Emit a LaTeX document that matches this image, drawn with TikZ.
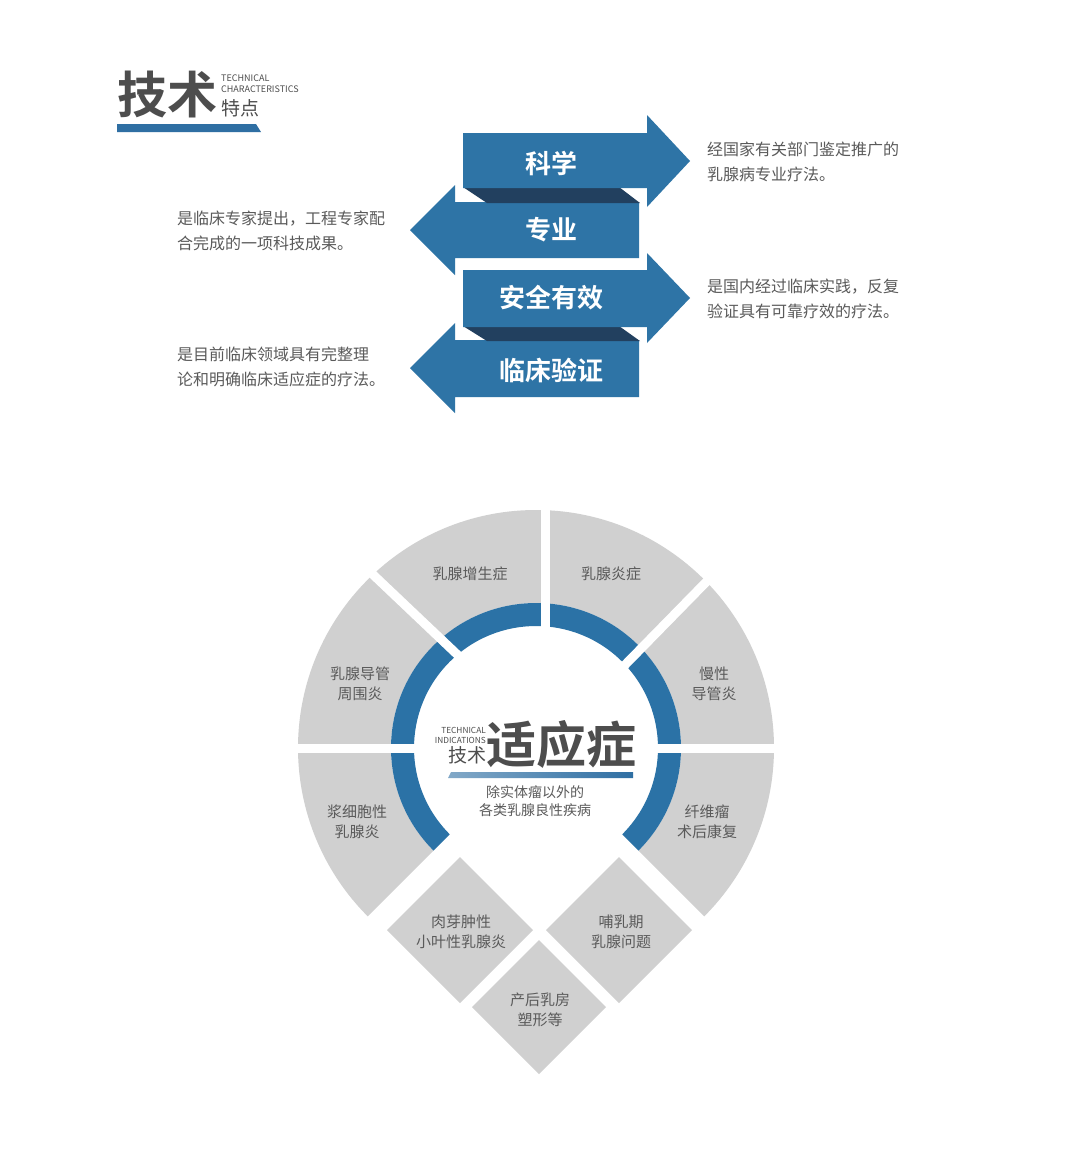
\documentclass[tikz,border=0pt]{standalone}
\usepackage{fontspec}
\setmainfont{Noto Sans CJK SC}[BoldFont={* Bold}]
\usetikzlibrary{calc}
\definecolor{ablue}{HTML}{2E74A6}
\definecolor{adark}{HTML}{22405F}
\definecolor{rblue}{HTML}{2B72A6}
\definecolor{sgray}{HTML}{D0D0D0}
\definecolor{tgray}{HTML}{5A5A5A}
\definecolor{hgray}{HTML}{4D4D4D}
\definecolor{barblue}{HTML}{2F6FA3}
\begin{document}
\begin{tikzpicture}[x=1pt,y=-1pt]
\tikzset{
  arrowbody/.style={fill=ablue},
  foldband/.style={fill=adark},
  sector/.style={fill=sgray},
  ringseg/.style={fill=rblue},
  gapline/.style={draw=white, line width=9pt},
  lbl/.style={text=tgray, font=\fontsize{15}{20}\selectfont, align=center, inner sep=0},
  desc/.style={text=tgray, font=\fontsize{16}{25}\selectfont, align=left, anchor=west, inner sep=0},
  arlbl/.style={text=white, font=\bfseries\fontsize{26}{30}\selectfont, inner sep=0},
  tiny/.style={text=hgray, font=\fontsize{9}{10}\selectfont, inner sep=0},
}
\fill[white] (0,0) rectangle (1080,1152);
\useasboundingbox (0,0) rectangle (1080,1152);

% ---------- header ----------
\node[text=hgray, font=\bfseries\fontsize{50}{50}\selectfont, inner sep=0] (hd) at (167,94) {技术};
\node[tiny, anchor=west] (hdA) at (221,78) {TECHNICAL};
\node[tiny, anchor=west] (hdB) at (221,89) {CHARACTERISTICS};
\node[text=hgray, font=\fontsize{19}{20}\selectfont, inner sep=0, anchor=west] (hdC) at (221,108) {特点};
\fill[barblue] (117,124) -- (256,124) -- (261,132) -- (117,132) -- cycle;

% ---------- arrows ----------
% arrow 2 (left)
\fill[arrowbody] (639,202) -- (455,202) -- (455,185) -- (410,230) -- (455,275) -- (455,258) -- (639,258) -- cycle;
\fill[foldband] (463,187) -- (619,187) -- (640,203) -- (487,203) -- cycle;
% arrow 1 (right)
\fill[arrowbody] (463,133) -- (647,133) -- (647,115) -- (690,161) -- (647,207) -- (647,188) -- (463,188) -- cycle;
% arrow 4 (left)
\fill[arrowbody] (639,340) -- (455,340) -- (455,323) -- (410,368) -- (455,413) -- (455,397) -- (639,397) -- cycle;
\fill[foldband] (463,326) -- (619,326) -- (640,341) -- (487,341) -- cycle;
% arrow 3 (right)
\fill[arrowbody] (463,270) -- (647,270) -- (647,253) -- (690,298) -- (647,343) -- (647,327) -- (463,327) -- cycle;

\node[arlbl] (a1) at (551,163) {科学};
\node[arlbl] (a2) at (551,230) {专业};
\node[arlbl] (a3) at (551,298) {安全有效};
\node[arlbl] (a4) at (551,370) {临床验证};

\node[desc] (d1) at (707,162) {经国家有关部门鉴定推广的\\乳腺病专业疗法。};
\node[desc] (d2) at (177,231) {是临床专家提出，工程专家配\\合完成的一项科技成果。};
\node[desc] (d3) at (707,299) {是国内经过临床实践，反复\\验证具有可靠疗效的疗法。};
\node[desc] (d4) at (177,367) {是目前临床领域具有完整理\\论和明确临床适应症的疗法。};

% ---------- indications wheel ----------
\begin{scope}[shift={(536,748)}]
  \fill[sector] (0:145) -- (0:238) arc[start angle=0,end angle=-180,radius=238] -- (-180:145) arc[start angle=-180,end angle=0,radius=145] -- cycle;
  \fill[sector] (-180:145) -- (-180:238) arc[start angle=-180,end angle=-225,radius=238] -- (-225:145) arc[start angle=-225,end angle=-180,radius=145] -- cycle;
  \fill[sector] (0:145) -- (0:238) arc[start angle=0,end angle=45,radius=238] -- (45:145) arc[start angle=45,end angle=0,radius=145] -- cycle;
  \fill[ringseg] (45:122) -- (45:145) arc[start angle=45,end angle=-225,radius=145] -- (-225:122) arc[start angle=-225,end angle=45,radius=122] -- cycle;
\end{scope}
\draw[gapline] (545,500) -- (545,632);
\draw[gapline] (290,748) -- (420,748);
\draw[gapline] (650,748) -- (790,748);
\draw[gapline] (365,567) -- (463,660);
\draw[gapline] (713,575) -- (620,670);

\fill[sector] (460,857) -- (533,930) -- (460,1003) -- (387,930) -- cycle;
\fill[sector] (619,857) -- (692,930) -- (619,1003) -- (546,930) -- cycle;
\fill[sector] (539,940) -- (606,1007) -- (539,1074) -- (472,1007) -- cycle;

\node[lbl] (s1) at (470,574) {乳腺增生症};
\node[lbl] (s2) at (611,574) {乳腺炎症};
\node[lbl] (s3) at (360,684) {乳腺导管\\周围炎};
\node[lbl] (s4) at (714,684) {慢性\\导管炎};
\node[lbl] (s5) at (357,822) {浆细胞性\\乳腺炎};
\node[lbl] (s6) at (707,822) {纤维瘤\\术后康复};
\node[lbl] (s7) at (461,932) {肉芽肿性\\小叶性乳腺炎};
\node[lbl] (s8) at (621,932) {哺乳期\\乳腺问题};
\node[lbl] (s9) at (540,1010) {产后乳房\\塑形等};

% center title
\node[tiny, anchor=east, font=\fontsize{8.3}{9}\selectfont] (cA) at (486,730) {TECHNICAL};
\node[tiny, anchor=east, font=\fontsize{8.3}{9}\selectfont] (cB) at (486,740) {INDICATIONS};
\node[text=hgray, font=\fontsize{19}{20}\selectfont, inner sep=0] (cC) at (467,755) {技术};
\node[text=hgray, font=\bfseries\fontsize{50}{50}\selectfont, inner sep=0] (cD) at (561,744) {适应症};
\shade[left color=barblue!60!white, right color=barblue] (451,772) -- (633,772) -- (633,778) -- (448,778) -- cycle;
\node[text=tgray, font=\fontsize{14}{18}\selectfont, align=center, inner sep=0] (cE) at (535,801) {除实体瘤以外的\\各类乳腺良性疾病};
\end{tikzpicture}
\end{document}
